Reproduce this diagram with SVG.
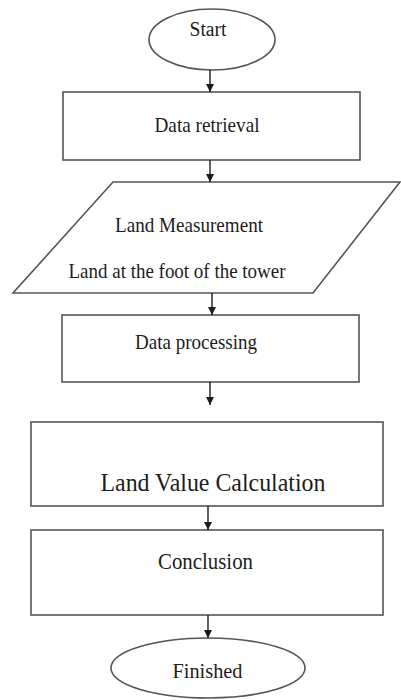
<svg xmlns="http://www.w3.org/2000/svg" width="401" height="700" viewBox="0 0 401 700">
<style>
.shape{fill:#ffffff;stroke:#555555;stroke-width:1.6}
.lbl{font-family:"Liberation Serif","Times New Roman",serif;fill:#1c1c1c;text-anchor:middle}
.con{stroke:#1c1c1c;stroke-width:1.4;fill:none}
</style>
<defs>
<marker id="ah" viewBox="0 0 10 10" refX="10" refY="5" markerWidth="8" markerHeight="8" markerUnits="userSpaceOnUse" orient="auto">
<path d="M0,0 L10,5 L0,10 Z" fill="#1c1c1c"/>
</marker>
</defs>
<rect width="401" height="700" fill="#ffffff"/>
<g id="start">
<ellipse class="shape" cx="212" cy="39.5" rx="63" ry="30.5"/>
<text class="lbl" x="208" y="36" font-size="20.5" textLength="37" lengthAdjust="spacingAndGlyphs">Start</text>
</g>
<g id="data-retrieval">
<rect class="shape" x="63" y="92" width="297" height="68"/>
<text class="lbl" x="207" y="131.5" font-size="21" textLength="105" lengthAdjust="spacingAndGlyphs">Data retrieval</text>
</g>
<g id="land-measurement">
<polygon class="shape" points="113,182 400,182 313,293 13,293"/>
<text class="lbl" x="189" y="232" font-size="21" textLength="148" lengthAdjust="spacingAndGlyphs">Land Measurement</text>
<text class="lbl" x="177" y="277.5" font-size="21" textLength="217" lengthAdjust="spacingAndGlyphs">Land at the foot of the tower</text>
</g>
<g id="data-processing">
<rect class="shape" x="62" y="315" width="297" height="67"/>
<text class="lbl" x="196" y="348.5" font-size="21" textLength="122" lengthAdjust="spacingAndGlyphs">Data processing</text>
</g>
<g id="land-value-calculation">
<rect class="shape" x="31" y="422" width="352" height="84"/>
<text class="lbl" x="213" y="491" font-size="26" textLength="225" lengthAdjust="spacingAndGlyphs">Land Value Calculation</text>
</g>
<g id="conclusion">
<rect class="shape" x="31" y="530" width="352" height="85"/>
<text class="lbl" x="205.5" y="568.5" font-size="22.5" textLength="95" lengthAdjust="spacingAndGlyphs">Conclusion</text>
</g>
<g id="finished">
<ellipse class="shape" cx="208" cy="668" rx="97" ry="30"/>
<text class="lbl" x="207.5" y="677.5" font-size="22" textLength="70" lengthAdjust="spacingAndGlyphs">Finished</text>
</g>
<g id="connectors">
<line class="con" x1="210" y1="70" x2="210" y2="92" marker-end="url(#ah)"/>
<line class="con" x1="210" y1="160" x2="210" y2="182" marker-end="url(#ah)"/>
<line class="con" x1="212" y1="293" x2="212" y2="315" marker-end="url(#ah)"/>
<line class="con" x1="210" y1="382" x2="210" y2="405" marker-end="url(#ah)"/>
<line class="con" x1="208" y1="506" x2="208" y2="530" marker-end="url(#ah)"/>
<line class="con" x1="208" y1="615" x2="208" y2="638" marker-end="url(#ah)"/>
</g>
</svg>
